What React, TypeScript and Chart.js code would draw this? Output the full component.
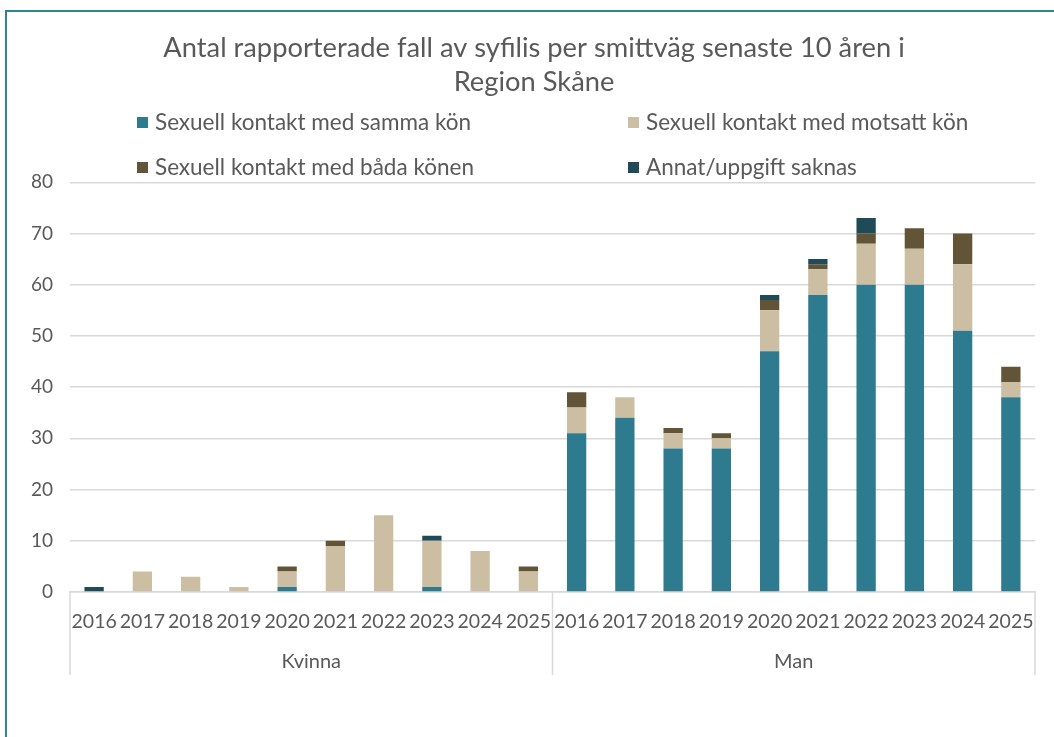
import React, { useEffect, useRef } from "react";
import { Chart, registerables } from "chart.js";

Chart.register(...registerables);

const years = ["2016", "2017", "2018", "2019", "2020", "2021", "2022", "2023", "2024", "2025"];
const groups = ["Kvinna", "Man"];
const categories = [...years, ...years];

const sammaKon = [0, 0, 0, 0, 1, 0, 0, 1, 0, 0, 31, 34, 28, 28, 47, 58, 60, 60, 51, 38];
const motsattKon = [0, 4, 3, 1, 3, 9, 15, 9, 8, 4, 5, 4, 3, 2, 8, 5, 8, 7, 13, 3];
const badaKonen = [0, 0, 0, 0, 1, 1, 0, 0, 0, 1, 3, 0, 1, 1, 2, 1, 2, 4, 6, 3];
const annat = [1, 0, 0, 0, 0, 0, 0, 1, 0, 0, 0, 0, 0, 0, 1, 1, 3, 0, 0, 0];

const seriesNames = [
  "Sexuell kontakt med samma kön",
  "Sexuell kontakt med motsatt kön",
  "Sexuell kontakt med båda könen",
  "Annat/uppgift saknas",
];
const seriesColors = ["#2E7B8F", "#CBBEA2", "#625537", "#1F4B59"];

const titleLines = ["Antal rapporterade fall av syfilis per smittväg senaste 10 åren i", "Region Skåne"];

const FONT = "Lato, 'Open Sans', sans-serif";
const TEXT = "#595959";
const GRID = "#d9d9d9";

const groupPlugin = {
  id: "groupPlugin",
  afterDraw(chart: any) {
    const { ctx, chartArea } = chart;
    const x = chart.scales.x;
    const mid = (x.getPixelForValue(9) + x.getPixelForValue(10)) / 2;
    const lines = [chartArea.left, mid, chartArea.right];
    ctx.save();
    ctx.strokeStyle = GRID;
    ctx.lineWidth = 1.5;
    lines.forEach((px: number) => {
      ctx.beginPath();
      ctx.moveTo(px, chartArea.bottom);
      ctx.lineTo(px, 675);
      ctx.stroke();
    });
    ctx.fillStyle = TEXT;
    ctx.font = "20px " + FONT;
    ctx.textAlign = "center";
    ctx.textBaseline = "middle";
    ctx.fillText(groups[0], (chartArea.left + mid) / 2, 662);
    ctx.fillText(groups[1], (mid + chartArea.right) / 2, 662);
    ctx.restore();
  },
};

export default function App() {
  const ref = useRef<HTMLCanvasElement | null>(null);

  useEffect(() => {
    if (!ref.current) return;
    const data = [sammaKon, motsattKon, badaKonen, annat];
    const chart = new Chart(ref.current, {
      type: "bar",
      data: {
        labels: categories,
        datasets: data.map((d, i) => ({
          label: seriesNames[i],
          data: d,
          backgroundColor: seriesColors[i],
          borderWidth: 0,
          barPercentage: 0.4,
          categoryPercentage: 1,
        })),
      },
      options: {
        animation: false,
        responsive: false,
        devicePixelRatio: 1,
        layout: { padding: { left: 14, right: 0, top: 0, bottom: 0 } },
        plugins: {
          legend: { display: false },
          tooltip: { enabled: false },
          title: {
            display: true,
            text: titleLines,
            color: TEXT,
            font: { family: FONT, size: 27.3, weight: "normal", lineHeight: 1.25 },
            padding: { top: 31, bottom: 83 },
          },
        },
        scales: {
          x: {
            stacked: true,
            grid: { display: false },
            border: { display: true, color: GRID, width: 1.5 },
            ticks: { color: TEXT, font: { family: FONT, size: 19.5 }, padding: 10, maxRotation: 0, autoSkip: false },
            afterFit: (s: any) => {
              s.height = 145;
            },
          },
          y: {
            stacked: true,
            min: 0,
            max: 80,
            ticks: { stepSize: 10, color: TEXT, font: { family: FONT, size: 19 }, padding: 17 },
            grid: { color: GRID, lineWidth: 1.5, drawTicks: false },
            border: { display: false },
            afterFit: (s: any) => {
              s.width = 56;
            },
          },
          spacer: {
            type: "linear",
            position: "right",
            display: true,
            grid: { display: false },
            border: { display: false },
            ticks: { display: false },
            afterFit: (s: any) => {
              s.width = 19;
            },
          },
        },
      },
      plugins: [groupPlugin],
    });
    return () => chart.destroy();
  }, []);

  const legendItem = (i: number, left: number, top: number) => (
    <div
      key={i}
      style={{
        position: "absolute",
        left,
        top,
        display: "flex",
        alignItems: "center",
        fontFamily: FONT,
        fontSize: 22.5,
        color: TEXT,
        whiteSpace: "nowrap",
        lineHeight: "26px",
      }}
    >
      <span style={{ display: "inline-block", width: 11, height: 11, background: seriesColors[i], marginRight: 7 }} />
      {seriesNames[i]}
    </div>
  );

  return (
    <div style={{ position: "fixed", left: 0, top: 0, width: 1054, height: 737, background: "#fff" }}>
      <div
        style={{
          position: "absolute",
          left: 5,
          top: 10,
          right: 0,
          bottom: 0,
          borderLeft: "2px solid #2F8597",
          borderTop: "2px solid #2F8597",
        }}
      />
      <canvas ref={ref} width={1054} height={737} style={{ position: "absolute", left: 0, top: 0 }} />
      {legendItem(0, 137, 109)}
      {legendItem(1, 628, 109)}
      {legendItem(2, 137, 154)}
      {legendItem(3, 628, 154)}
    </div>
  );
}
